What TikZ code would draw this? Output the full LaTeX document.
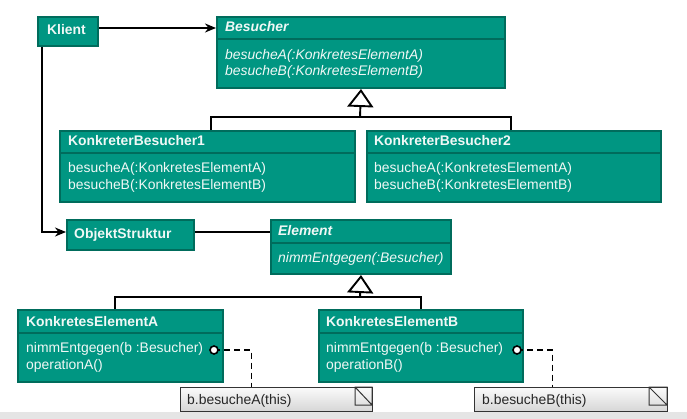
\documentclass[tikz,border=0pt]{standalone}
\usepackage{fontspec}
\setmainfont{Liberation Sans}
\usetikzlibrary{arrows.meta}
\definecolor{tealF}{RGB}{0,150,130}
\definecolor{tealD}{RGB}{0,108,92}
\definecolor{txtW}{RGB}{240,248,246}
\definecolor{stripG}{RGB}{229,229,229}
\tikzset{
  cls/.style={draw=tealD, line width=2pt, fill=tealF, rectangle, inner sep=0pt, anchor=north west},
  div/.style={draw=tealD, line width=2pt},
  ttl/.style={anchor=base west, inner sep=0pt, text=txtW, font=\fontsize{13.9}{16.6}\selectfont\bfseries},
  mth/.style={anchor=base west, inner sep=0pt, text=txtW, font=\fontsize{13.9}{16.6}\selectfont},
  conn/.style={draw=black, line width=1.9pt},
  assoc/.style={conn, -{Stealth[length=11pt,width=9pt,inset=3.5pt]}},
  inh/.style={conn, -{Triangle[open, fill=white, length=18pt, width=26pt, line width=1.9pt]}},
  dashline/.style={draw=black, line width=1.9pt, dash pattern=on 6pt off 4pt},
  notebox/.style={draw=black!80, line width=1pt, top color=gray!4, bottom color=gray!32, rectangle, inner sep=0pt, anchor=north west},
  notetxt/.style={anchor=base west, inner sep=0pt, text=black!85, font=\fontsize{13.9}{16.6}\selectfont},
  pin/.style={circle, draw=black, fill=white, line width=1.6pt, minimum size=8pt, inner sep=0pt}
}
\begin{document}
\begin{tikzpicture}[x=1pt,y=-1pt]
\useasboundingbox (0,0) rectangle (687,419);
\fill[white] (0,0) rectangle (687,419);
\fill[stripG] (0,412) rectangle (687,419);

% classes
\node[cls, minimum width=60pt, minimum height=29pt] (klient) at (37,16) {};
\node[cls, minimum width=288pt, minimum height=71pt] (besucher) at (216,16) {};
\node[cls, minimum width=295pt, minimum height=71pt] (kb1) at (59,130) {};
\node[cls, minimum width=294pt, minimum height=71pt] (kb2) at (366,130) {};
\node[cls, minimum width=127pt, minimum height=30pt] (os) at (66,219) {};
\node[cls, minimum width=180pt, minimum height=54pt] (element) at (270,219) {};
\node[cls, minimum width=205pt, minimum height=72pt] (kea) at (17,309) {};
\node[cls, minimum width=204pt, minimum height=72pt] (keb) at (318,309) {};

% dividers
\draw[div] (216,39) -- (504,39);
\draw[div] (59,153) -- (354,153);
\draw[div] (366,153) -- (660,153);
\draw[div] (270,243) -- (450,243);
\draw[div] (17,333) -- (222,333);
\draw[div] (318,333) -- (522,333);

% texts
\node[ttl] (tklient) at (47,35) {Klient};
\node[ttl] (tbes) at (225,31.7) {\itshape Besucher};
\node[mth] (mbes1) at (225,59.5) {\itshape besucheA(:KonkretesElementA)};
\node[mth] (mbes2) at (225,76) {\itshape besucheB(:KonkretesElementB)};
\node[ttl] (tkb1) at (68,146) {KonkreterBesucher1};
\node[mth] (mkb11) at (68,172.7) {besucheA(:KonkretesElementA)};
\node[mth] (mkb12) at (68,189.3) {besucheB(:KonkretesElementB)};
\node[ttl] (tkb2) at (374,146) {KonkreterBesucher2};
\node[mth] (mkb21) at (374,172.7) {besucheA(:KonkretesElementA)};
\node[mth] (mkb22) at (374,189.3) {besucheB(:KonkretesElementB)};
\node[ttl] (tos) at (74,238.3) {ObjektStruktur};
\node[ttl] (tel) at (278,236) {\itshape Element};
\node[mth] (mel) at (278,262.7) {\itshape nimmEntgegen(:Besucher)};
\node[ttl] (tkea) at (26,326) {KonkretesElementA};
\node[mth] (mkea1) at (26,352.7) {nimmEntgegen(b :Besucher)};
\node[mth] (mkea2) at (26,369.3) {operationA()};
\node[ttl] (tkeb) at (326,326) {KonkretesElementB};
\node[mth] (mkeb1) at (326,352.7) {nimmEntgegen(b :Besucher)};
\node[mth] (mkeb2) at (326,369.3) {operationB()};

% notes
\node[notebox, minimum width=192pt, minimum height=24pt] (noteA) at (180,387) {};
\node[notebox, minimum width=193pt, minimum height=24pt] (noteB) at (474,387) {};
\draw[black!80, line width=1pt] (355,387) rectangle (372,405) (355,387) -- (372,405);
\draw[black!80, line width=1pt] (649,387) rectangle (667,405) (649,387) -- (667,405);
\node[notetxt] (tnA) at (187,404.3) {b.besucheA(this)};
\node[notetxt] (tnB) at (482,404.3) {b.besucheB(this)};

% connectors
\coordinate (k1) at ([yshift=3.5pt]klient.east);
\draw[assoc] (k1) -- (k1 -| besucher.west);
\coordinate (k2) at ([xshift=5pt]klient.south west);
\coordinate (o1) at ([yshift=3pt]os.west);
\draw[assoc] (k2) |- (o1);
\coordinate (o2) at ([yshift=3pt]os.east);
\draw[conn] (o2) -- (o2 -| element.west);

\coordinate (j1) at (360,117);
\draw[conn] ([xshift=3.5pt]kb1.north) |- (j1) -| ([xshift=-3pt]kb2.north);
\draw[inh] (j1) -- (besucher.south);

\coordinate (j2) at (360,297);
\draw[conn] ([xshift=-5.5pt]kea.north) |- (j2) -| (keb.north);
\draw[inh] (j2) -- (element.south);

\coordinate (pa) at (214,350);
\coordinate (pb) at (517,350);
\draw[dashline] (pa) -| ([xshift=-25pt]noteA.north);
\draw[dashline] (pb) -| ([xshift=-18.5pt]noteB.north);
\node[pin] (ca) at (pa) {};
\node[pin] (cb) at (pb) {};
\end{tikzpicture}
\end{document}
